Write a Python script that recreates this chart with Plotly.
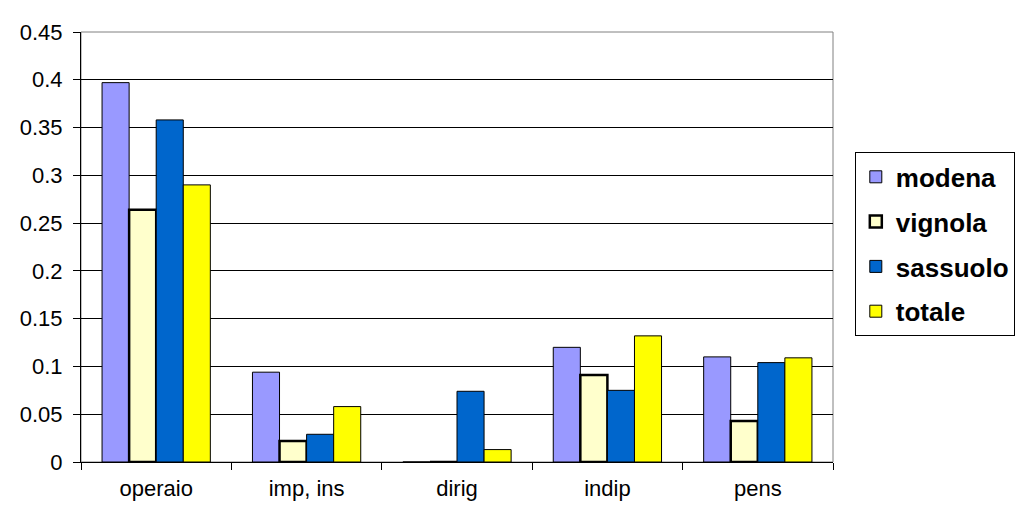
import plotly.graph_objects as go

categories = ['operaio', 'imp, ins', 'dirig', 'indip', 'pens']
modena = [0.397, 0.094, 0, 0.120, 0.110]
vignola = [0.264, 0.022, 0, 0.091, 0.043]
sassuolo = [0.358, 0.029, 0.074, 0.075, 0.104]
totale = [0.290, 0.058, 0.013, 0.132, 0.109]

series = [
    ('modena', modena, '#9999FF', 1),
    ('vignola', vignola, '#FFFFCC', 2.5),
    ('sassuolo', sassuolo, '#0066CC', 1),
    ('totale', totale, '#FFFF00', 1),
]

fig = go.Figure()
for name, vals, col, lw in series:
    fig.add_trace(go.Bar(x=categories, y=vals, name=name, legendgroup=name,
                         marker=dict(color=col, line=dict(color='black', width=lw))))

# page body has an 8px margin, so the figure is a bit smaller than the window
fig.update_layout(
    width=1020, height=505,
    margin=dict(l=72, r=195, t=14, b=51),
    paper_bgcolor='white', plot_bgcolor='white',
    barmode='group', bargap=0.28, bargroupgap=0,
    font=dict(family='Arial, Liberation Sans', size=22, color='black'),
    legend=dict(x=1.029, y=0.72, xanchor='left', yanchor='top',
                bordercolor='black', borderwidth=1,
                traceorder='grouped', tracegroupgap=8,
                font=dict(size=26, family='Arial, Liberation Sans', weight='bold')),
    shapes=[dict(type='rect', xref='paper', yref='paper', x0=0, x1=1, y0=0, y1=1,
                 line=dict(color='#808080', width=1), layer='below')],
)
fig.update_xaxes(showline=True, linecolor='black', linewidth=1,
                 ticks='outside', ticklen=7, tickcolor='black', tickson='boundaries',
                 ticklabelstandoff=7,
                 showgrid=False, tickfont=dict(size=22))
fig.update_yaxes(range=[0, 0.45], dtick=0.05, showline=True, linecolor='black', linewidth=1,
                 ticks='outside', ticklen=7, tickcolor='black', ticklabelstandoff=6,
                 showgrid=True, gridcolor='black', gridwidth=1,
                 zeroline=False, tickfont=dict(size=22))

fig.write_html("out.html")
